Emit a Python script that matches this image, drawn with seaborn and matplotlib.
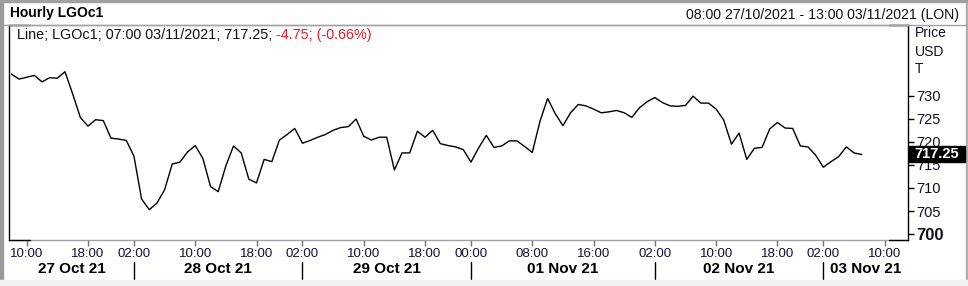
import numpy as np
import pandas as pd
import matplotlib
matplotlib.use("Agg")
import matplotlib.pyplot as plt
from matplotlib.lines import Line2D
from matplotlib.patches import Rectangle
import seaborn as sns

# ---- data (hourly bars, trading hours only) ----
prices = [
    734.7, 733.6, 734.0, 734.4, 733.0, 733.9, 733.8, 735.2, 730.4, 725.3,
    723.4, 724.8, 724.6, 720.8, 720.6, 720.3,
    716.9, 707.6, 705.3, 706.7, 709.6, 715.2, 715.6, 717.8, 719.2, 716.4,
    710.3, 709.2, 714.8, 719.1, 717.6, 711.9, 711.1, 716.2, 715.7, 720.4,
    721.6, 722.9,
    719.7, 720.3, 721.0, 721.6, 722.5, 723.1, 723.3, 724.95, 721.2, 720.4,
    721.0, 721.0, 713.9, 717.6, 717.6, 722.3, 721.0, 722.5, 719.6, 719.2,
    718.9, 718.3,
    715.6, 718.7, 721.4, 718.8, 719.1, 720.2, 720.2, 719.0, 717.7, 724.4,
    729.4, 726.1, 723.5, 726.3, 728.1, 727.8, 727.1, 726.3, 726.5, 726.8,
    726.3, 725.3, 727.4, 728.7,
    729.6, 728.5, 727.8, 727.7, 727.9, 729.9, 728.4, 728.4, 727.1, 724.7,
    719.5, 721.9, 716.2, 718.6, 718.8, 722.8, 724.2, 723.0, 722.9, 719.1,
    718.9, 717.1,
    714.5, 715.7, 716.8, 718.9, 717.6, 717.25,
]
tick_positions = [2, 10, 16, 24, 32, 38, 46, 54, 60, 68, 76, 84, 92, 100, 106, 114]
tick_labels = ["10:00", "18:00", "02:00", "10:00", "18:00", "02:00", "10:00", "18:00",
               "00:00", "08:00", "16:00", "02:00", "10:00", "18:00", "02:00", "10:00"]
day_names = ["27 Oct 21", "28 Oct 21", "29 Oct 21", "01 Nov 21", "02 Nov 21", "03 Nov 21"]
day_starts = [0, 16, 38, 60, 84, 106]
n_bars_axis = 118
y_ticks = [700, 705, 710, 715, 720, 725, 730]
last_value = "717.25"

df = pd.DataFrame({"bar": np.arange(len(prices)), "price": prices})

# ---- figure ----
sns.set_theme(style="white")
plt.rcParams["font.family"] = ["Liberation Sans", "DejaVu Sans"]

W, H = 968, 286
fig = plt.figure(figsize=(W / 100, H / 100), dpi=100)
fig.patch.set_facecolor("white")

def fx(x):
    return x / W

def fy(y):
    return 1 - y / H

L, R, T, B = 9, 908, 25, 240
ax = fig.add_axes([fx(L), fy(B), (R - L) / W, (B - T) / H])
ax.set_facecolor("white")

sns.lineplot(data=df, x="bar", y="price", ax=ax, color="black", linewidth=1.0)

x0 = -0.31
ax.set_xlim(x0, n_bars_axis - 0.95)
ax.set_ylim(698.72, 745.33)
ax.set_xlabel("")
ax.set_ylabel("")

# spines
for s in ["left", "right"]:
    ax.spines[s].set_color("black")
    ax.spines[s].set_linewidth(1.0)
for s in ["top", "bottom"]:
    ax.spines[s].set_color("#a0a0a8")
    ax.spines[s].set_linewidth(1.0)

# y axis on the right
ax.yaxis.tick_right()
ax.set_yticks(y_ticks)
ax.set_yticklabels([str(v) for v in y_ticks])
ax.tick_params(axis="y", which="both", right=True, left=False, length=4, width=1,
               color="black", labelsize=10.5, pad=2, labelcolor="#111122")
for lbl in ax.get_yticklabels():
    if lbl.get_text() == "700":
        lbl.set_fontweight("bold")
        lbl.set_fontsize(12)

# x axis
ax.set_xticks(tick_positions)
ax.set_xticklabels(tick_labels)
ax.tick_params(axis="x", which="both", bottom=True, length=4, width=1,
               color="#707070", labelsize=9.5, pad=1.5, labelcolor="#111133")

# day labels and separators
trans = ax.get_xaxis_transform()
day_ends = day_starts[1:] + [n_bars_axis - 0.95]
for i, (name, st) in enumerate(zip(day_names, day_starts)):
    left_edge = x0 if i == 0 else st
    ctr = (left_edge + day_ends[i]) / 2
    ax.text(ctr, -(269 - B) / (B - T), name, transform=trans, ha="center", va="center",
            fontsize=11, fontweight="bold", color="black")
    if i > 0:
        ax.plot([st, st], [-(261.5 - B) / (B - T), -(279 - B) / (B - T)], transform=trans,
                color="black", linewidth=1, clip_on=False)

# black corner marks on top/bottom frame
for (xa, xb, yy) in [(L, 30, T), (L, 30, B), (889, R, T), (889, R, B)]:
    fig.add_artist(Line2D([fx(xa), fx(xb)], [fy(yy), fy(yy)], color="black", linewidth=1))

# header separator and window border
fig.add_artist(Line2D([fx(3), fx(966)], [fy(25), fy(25)], color="#a0a0a8", linewidth=1))
fig.add_artist(Rectangle((0, 0), fx(2.5), 1, transform=fig.transFigure, color="#9a9a9a"))
fig.add_artist(Rectangle((fx(965.5), 0), fx(2.5), 1, transform=fig.transFigure, color="#b0b0b0"))
fig.add_artist(Rectangle((0, fy(2)), 1, fy(0) - fy(2), transform=fig.transFigure, color="#a0a0a0"))
fig.add_artist(Rectangle((0, 0), 1, fy(280), transform=fig.transFigure, color="#f0f0f0"))

# header texts
fig.text(fx(10), fy(13.5), "Hourly LGOc1", fontsize=10, fontweight="bold",
         ha="left", va="center", color="black")
fig.text(fx(959), fy(15), "08:00 27/10/2021 - 13:00 03/11/2021 (LON)", fontsize=10.2,
         ha="right", va="center", color="#111111")

# legend line
t1 = fig.text(fx(17), fy(35), "Line; LGOc1; 07:00 03/11/2021; 717.25; ", fontsize=10.35,
              ha="left", va="center", color="#111111")
ax.annotate("-4.75; (-0.66%)", xy=(1, 0), xycoords=t1, va="bottom", ha="left",
            fontsize=10.35, color="#ee1c2a", annotation_clip=False)

# axis unit labels
for txt, yy in [("Price", 33.3), ("USD", 51.5), ("T", 69.3)]:
    fig.text(fx(915), fy(yy), txt, fontsize=10, ha="left", va="center", color="#111122")

# current value box
fig.add_artist(Rectangle((fx(909), fy(161.5)), fx(965) - fx(909), fy(146) - fy(161.5),
                         transform=fig.transFigure, color="black"))
fig.text(fx(937), fy(153.8), last_value, fontsize=10.5, fontweight="bold", color="white",
         ha="center", va="center")

fig.savefig("out.png", dpi=100)
